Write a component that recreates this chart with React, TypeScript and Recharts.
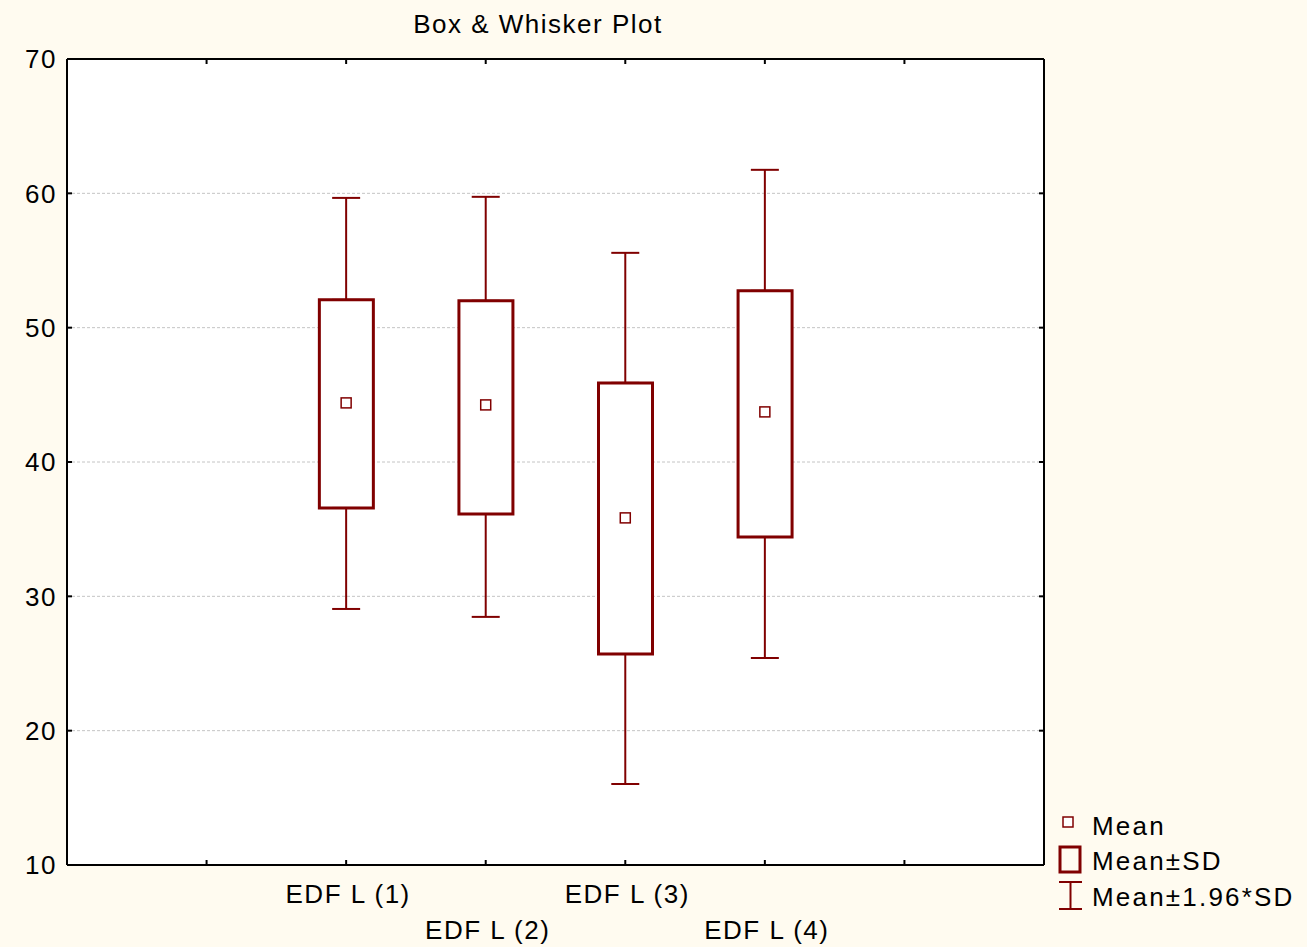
import {
  Bar,
  CartesianGrid,
  ComposedChart,
  ErrorBar,
  Scatter,
  XAxis,
  YAxis,
} from "recharts";

// values
const categories = ["EDF L (1)", "EDF L (2)", "EDF L (3)", "EDF L (4)"];
const positions = [2, 3, 4, 5];
const means = [44.4, 44.25, 35.84, 43.73];
const sdLow = [36.58, 36.13, 25.71, 34.42];
const sdHigh = [52.07, 52.0, 45.89, 52.74];
const ciLow = [29.06, 28.47, 16.03, 25.41];
const ciHigh = [59.66, 59.74, 55.57, 61.75];
const yTicks = [10, 20, 30, 40, 50, 60, 70];
const xTickMarks = [1, 2, 3, 4, 5, 6];

const data = categories.map((name, i) => ({
  name,
  x: positions[i],
  mean: means[i],
  sdLow: sdLow[i],
  sdHigh: sdHigh[i],
  ciLow: ciLow[i],
  ciHigh: ciHigh[i],
}));

const DARK = "#800000";
const BG = "#FFFBF0";
const FONT = '"Liberation Sans", Arial, sans-serif';

const W = 1307;
const H = 947;

// bottom axis: inward tick mark + staggered category label
function CategoryTick({ x, y, payload }: any) {
  const i = positions.indexOf(payload.value);
  return (
    <g>
      <line x1={x} y1={y} x2={x} y2={y - 5} stroke="#000" strokeWidth={2} />
      {i >= 0 && (
        <text
          x={x + 2}
          y={y + (i % 2 === 0 ? 38 : 74)}
          textAnchor="middle"
          fontFamily={FONT}
          fontSize={26}
          letterSpacing={1.5}
          fill="#000">
          {categories[i]}
        </text>
      )}
    </g>
  );
}

function TopMark({ x, y }: any) {
  return <line x1={x} y1={y} x2={x} y2={y + 5} stroke="#000" strokeWidth={2} />;
}

function ValueTick({ x, y, payload }: any) {
  return (
    <g>
      <line x1={x} y1={y} x2={x + 5} y2={y} stroke="#000" strokeWidth={2} />
      <text
        x={x - 10}
        y={y}
        dy="0.36em"
        textAnchor="end"
        fontFamily={FONT}
        fontSize={26}
        letterSpacing={1.5}
        fill="#000">
        {payload.value}
      </text>
    </g>
  );
}

function MeanSquare({ cx, cy }: any) {
  return (
    <rect
      x={cx - 5}
      y={cy - 5}
      width={10}
      height={10}
      fill="#fff"
      stroke={DARK}
      strokeWidth={1.5}
    />
  );
}

const noShape = () => <g />;
const blank = () => "";

const axisLine = { stroke: "#000", strokeWidth: 2 };
const markLine = { stroke: "#000", strokeWidth: 2 };

function LegendBox() {
  const text = {
    fontFamily: FONT,
    fontSize: 26,
    letterSpacing: 2.2,
    fill: "#000",
  };
  return (
    <svg
      width={260}
      height={120}
      style={{ position: "absolute", left: 1050, top: 800 }}>
      <rect x={13} y={17} width={10} height={10} fill="#fff" stroke={DARK} strokeWidth={1.5} />
      <text x={42} y={35} {...text}>Mean</text>
      <rect x={10} y={47} width={20} height={25} fill="none" stroke={DARK} strokeWidth={3} />
      <text x={42} y={70} {...text}>Mean±SD</text>
      <line x1={9} y1={82} x2={32} y2={82} stroke={DARK} strokeWidth={2} />
      <line x1={20.5} y1={82} x2={20.5} y2={109} stroke={DARK} strokeWidth={2} />
      <line x1={9} y1={109} x2={32} y2={109} stroke={DARK} strokeWidth={2} />
      <text x={42} y={106} {...text}>Mean±1.96*SD</text>
    </svg>
  );
}

export default function App() {
  return (
    <div
      style={{
        position: "absolute",
        left: 0,
        top: 0,
        width: W,
        height: H,
        background: BG,
      }}>
      <div
        style={{
          position: "absolute",
          left: 0,
          top: 11,
          width: 1076,
          textAlign: "center",
          fontFamily: FONT,
          fontSize: 26,
          lineHeight: "26px",
          letterSpacing: 1.5,
          color: "#000",
        }}>
        Box &amp; Whisker Plot
      </div>
      <ComposedChart
        width={W}
        height={H}
        data={data}
        margin={{ top: 58, right: 263, bottom: 22, left: 7 }}>
        <CartesianGrid
          vertical={false}
          fill="#fff"
          stroke="#c4c4c4"
          strokeDasharray="3 2"
        />
        <XAxis
          dataKey="x"
          type="number"
          domain={[0, 7]}
          allowDataOverflow
          ticks={xTickMarks}
          interval={0}
          tick={<CategoryTick />}
          tickLine={false}
          tickSize={0}
          tickMargin={0}
          axisLine={axisLine}
          height={60}
        />
        <XAxis
          xAxisId="top"
          dataKey="x"
          type="number"
          domain={[0, 7]}
          allowDataOverflow
          ticks={xTickMarks}
          interval={0}
          orientation="top"
          tick={<TopMark />}
          tickLine={false}
          tickSize={0}
          tickMargin={0}
          axisLine={axisLine}
          height={1}
        />
        <YAxis
          type="number"
          domain={[10, 70]}
          allowDataOverflow
          ticks={yTicks}
          interval={0}
          tick={<ValueTick />}
          tickLine={false}
          tickSize={0}
          tickMargin={0}
          axisLine={axisLine}
          width={60}
        />
        <YAxis
          yAxisId="right"
          type="number"
          domain={[10, 70]}
          allowDataOverflow
          ticks={yTicks}
          interval={0}
          orientation="right"
          mirror
          tickFormatter={blank}
          tickLine={markLine}
          tickSize={5}
          axisLine={axisLine}
        />
        <Bar
          dataKey={(d: any) => [d.sdLow, d.sdHigh]}
          barSize={54}
          fill="#fff"
          stroke={DARK}
          strokeWidth={3}
          isAnimationActive={false}
        />
        <Scatter dataKey="sdHigh" shape={noShape} isAnimationActive={false}>
          <ErrorBar
            dataKey={(d: any) => [0, d.ciHigh - d.sdHigh]}
            direction="y"
            width={14}
            stroke={DARK}
            strokeWidth={2}
          />
        </Scatter>
        <Scatter dataKey="sdLow" shape={noShape} isAnimationActive={false}>
          <ErrorBar
            dataKey={(d: any) => [d.sdLow - d.ciLow, 0]}
            direction="y"
            width={14}
            stroke={DARK}
            strokeWidth={2}
          />
        </Scatter>
        <Scatter dataKey="mean" shape={<MeanSquare />} isAnimationActive={false} />
        <Scatter
          xAxisId="top"
          dataKey="mean"
          shape={noShape}
          isAnimationActive={false}
        />
      </ComposedChart>
      <LegendBox />
    </div>
  );
}
